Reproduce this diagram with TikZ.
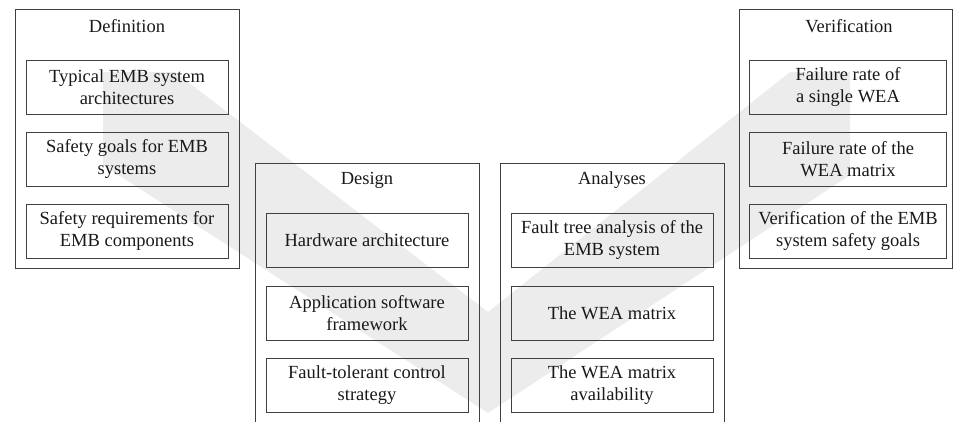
\documentclass[tikz,border=0pt]{standalone}
\usepackage{fontspec}
\setmainfont{Liberation Serif}
\newfontfamily\boxfont{Liberation Serif}
\begin{document}
\begin{tikzpicture}[x=1pt,y=-1pt,
  every node/.style={font=\boxfont\fontsize{18.5}{21.5}\selectfont, text=black!90},
  frame/.style={draw=black!75, line width=0.8pt},
  item/.style={frame, align=center, inner sep=0pt, minimum width=202pt, minimum height=54pt},
  vitem/.style={item, minimum width=197pt},
  title/.style={inner sep=0pt}
]
\definecolor{vband}{RGB}{236,236,236}
\useasboundingbox (0,0) rectangle (956,421);
\clip (0,0) rectangle (956,421);

% light grey V band behind the columns
\fill[vband] (103,72) -- (175,72) -- (488,312) -- (790,72) -- (850,72)
  -- (850,175) -- (488,413) -- (103,165) -- cycle;

% column frames
\node[frame, inner sep=0pt, minimum width=224pt, minimum height=259pt] (defcol) at (127,138.5) {};
\node[frame, inner sep=0pt, minimum width=213pt, minimum height=259pt] (vercol) at (845.5,138.5) {};
\draw[frame] (255,430) coordinate (desbl) -- (255,163) -- (479,163) -- (479,430) coordinate (desbr);
\draw[frame] (500,430) coordinate (anabl) -- (500,163) -- (724,163) -- (724,430) coordinate (anabr);

% column titles
\node[title] (deft) at (127,26) {Definition};
\node[title] (dest) at (367,180) {Design};
\node[title] (anat) at (612,180) {Analyses};
\node[title] (vert) at (849,26) {Verification};

% Definition
\node[item] (d1) at (127,87)  {Typical EMB system\\architectures};
\node[item] (d2) at (127,159) {Safety goals for EMB\\systems};
\node[item] (d3) at (127,231) {Safety requirements for\\EMB components};

% Design
\node[item] (s1) at (367,240) {Hardware architecture};
\node[item] (s2) at (367,313) {Application software\\framework};
\node[item] (s3) at (367,385) {Fault-tolerant control\\strategy};

% Analyses
\node[item] (a1) at (612,240) {Fault tree analysis of the\\EMB system};
\node[item] (a2) at (612,313) {The WEA matrix};
\node[item] (a3) at (612,385) {The WEA matrix\\availability};

% Verification
\node[vitem] (v1) at (848,87)  {Failure rate of\\a single WEA};
\node[vitem] (v2) at (848,159) {Failure rate of the\\WEA matrix};
\node[vitem] (v3) at (848,231) {Verification of the EMB\\system safety goals};
\end{tikzpicture}
\end{document}
